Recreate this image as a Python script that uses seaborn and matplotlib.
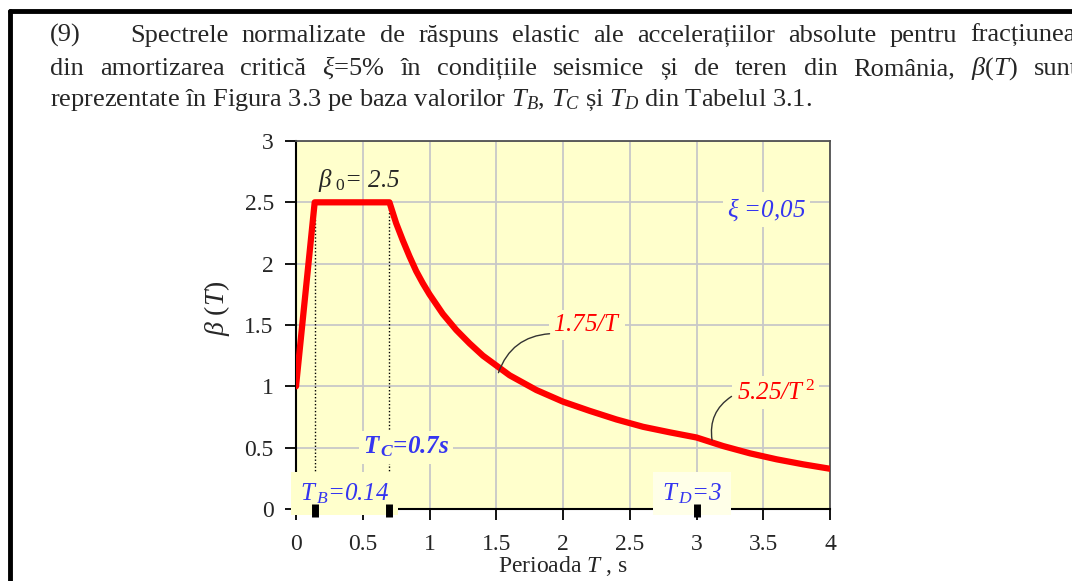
import pandas as pd
import seaborn as sns
import matplotlib.pyplot as plt
from matplotlib.lines import Line2D

# ------------- DATE
perioada = [0.0, 0.14, 0.7, 0.75, 0.8, 0.85, 0.9, 0.95, 1.0, 1.1, 1.2, 1.3, 1.4, 1.5,
            1.6, 1.8, 2.0, 2.2, 2.4, 2.6, 2.8, 3.0, 3.2, 3.4, 3.6, 3.8, 4.0]
beta = [1.0, 2.5, 2.5, 2.33, 2.19, 2.06, 1.94, 1.84, 1.75, 1.59, 1.46, 1.35, 1.25, 1.17,
        1.09, 0.97, 0.875, 0.80, 0.73, 0.67, 0.625, 0.583, 0.513, 0.454, 0.405, 0.364, 0.328]

perioade_colt = [0.14, 0.7, 3.0]          # TB, TC, TD
inceput_punctat = [2.37, 2.5]              # unde incep liniile punctate la TB si TC
x_ticks = [0, 0.5, 1, 1.5, 2, 2.5, 3, 3.5, 4]
x_labels = ["0", "0.5", "1", "1.5", "2", "2.5", "3", "3.5", "4"]
y_ticks = [0, 0.5, 1, 1.5, 2, 2.5, 3]
y_labels = ["0", "0.5", "1", "1.5", "2", "2.5", "3"]

rand1 = "Spectrele normalizate de răspuns elastic ale accelerațiilor absolute pentru fracțiunea"
rand2 = r"din amortizarea critică $\xi$=5% în condițiile seismice și de teren din România, $\beta(T)$ sunt"
rand3 = r"reprezentate în Figura 3.3 pe baza valorilor $T_B$, $T_C$ și $T_D$ din Tabelul 3.1."

df = pd.DataFrame({"T": perioada, "beta": beta})

sns.set_style("ticks")
plt.rcParams['font.family'] = ['Liberation Serif', 'DejaVu Serif']
plt.rcParams['mathtext.fontset'] = 'custom'
plt.rcParams['mathtext.rm'] = 'Liberation Serif'
plt.rcParams['mathtext.it'] = 'Liberation Serif:italic'
plt.rcParams['mathtext.bf'] = 'Liberation Serif:bold'
plt.rcParams['mathtext.bfit'] = 'Liberation Serif:bold:italic'

W, H = 1072, 581
fig = plt.figure(figsize=(W / 100, H / 100), dpi=100)
ax = fig.add_axes([296 / W, 1 - 509 / H, (830 - 296) / W, (509 - 141) / H])
renderer = fig.canvas.get_renderer()


def rand_justificat(text, x0, x1, y, fs):
    # pune cuvintele unul cate unul ca randul sa umple latimea (ca in pagina)
    cuvinte = text.split(" ")
    obiecte = [fig.text(0, 1 - y / H, c, fontsize=fs) for c in cuvinte]
    latimi = [o.get_window_extent(renderer).width for o in obiecte]
    spatiu = (x1 - x0 - sum(latimi)) / (len(cuvinte) - 1)
    x = x0
    for o, w in zip(obiecte, latimi):
        o.set_x(x / W)
        x += w + spatiu


# ------------- TEXT PARAGRAF
fs_txt = 19
fig.text(50 / W, 1 - 42 / H, "(9)", fontsize=fs_txt)
rand_justificat(rand1, 130, 1076, 42, fs_txt)
rand_justificat(rand2, 50, 1078, 75, fs_txt)
fig.text(50 / W, 1 - 106 / H, rand3, fontsize=fs_txt)

# chenar pagina
fig.add_artist(Line2D([9.5 / W, 1], [1 - 11 / H] * 2, color="black", lw=3.5,
                      transform=fig.transFigure))
fig.add_artist(Line2D([9.5 / W] * 2, [0, 1 - 11 / H], color="black", lw=3.5,
                      transform=fig.transFigure))

# ------------- GRAFIC
ax.set_facecolor("#FFFFCC")
ax.set_axisbelow(True)
ax.grid(True, color="#c8c8c8", lw=1.3)

sns.lineplot(data=df, x="T", y="beta", ax=ax, color="red", lw=4.5, sort=False,
             zorder=4, legend=False)

for t, y0 in zip(perioade_colt[:2], inceput_punctat):
    ax.plot([t, t], [0, y0], color="black", lw=1, ls=(0, (1, 1.5)), zorder=2)

ax.set_xlim(0, 4)
ax.set_ylim(0, 3)
ax.set_xticks(x_ticks)
ax.set_xticklabels(x_labels)
ax.set_yticks(y_ticks)
ax.set_yticklabels(y_labels)
ax.tick_params(direction="out", length=8, width=1.3, labelsize=17, color="black")
ax.tick_params(axis="x", pad=10)
ax.tick_params(axis="y", pad=8)

for s in ["top", "right"]:
    ax.spines[s].set_color("#505050")
    ax.spines[s].set_linewidth(1.3)
for s in ["bottom", "left"]:
    ax.spines[s].set_color("black")
    ax.spines[s].set_linewidth(1.5)

ax.set_xlabel(r"Perioada $T$ , s", fontsize=17)
ax.xaxis.set_label_coords(0.5, -0.122)
ax.set_ylabel(r"$\beta\ (T)$", fontsize=20)
ax.yaxis.set_label_coords(-0.12, 0.545)

box = dict(facecolor="#FFFFCC", edgecolor="none", pad=3)
blue = "#3535f0"

ax.text(0.165, 2.68, r"$\beta_{\ 0}$= 2.5", fontsize=18, style="italic", va="center")
ax.text(3.23, 2.44, r"$\xi$ =0,05", fontsize=18, style="italic", color=blue,
        va="center", bbox=box)
ax.text(1.925, 1.50, r"1.75/$T$", fontsize=18, style="italic", color="red",
        va="center", bbox=box)
ax.text(3.30, 0.95, r"5.25/$T^{\,2}$", fontsize=18, style="italic", color="red",
        va="center", bbox=box)
ax.text(0.50, 0.505, r"$\mathbfit{T}_{\,\mathbfit{C}}$=0.7s", fontsize=18, style="italic",
        weight="bold", color=blue, va="center", bbox=box, zorder=5)
ax.text(0.03, 0.125, r"$T_{\,B}$=0.14", fontsize=18, style="italic", color=blue,
        va="center", bbox=dict(facecolor="#FFFFCC", edgecolor="none", pad=6.5), zorder=5,
        clip_on=False)
ax.text(2.74, 0.125, r"$T_{\,D}$=3", fontsize=18, style="italic", color=blue,
        va="center", bbox=dict(facecolor="#FFFFE8", edgecolor="none", pad=6.5), zorder=5,
        clip_on=False)

ax.annotate("", xy=(1.51, 1.09), xytext=(1.92, 1.43),
            arrowprops=dict(arrowstyle="-", color="#333333", lw=1,
                            connectionstyle="arc3,rad=0.35"), zorder=6)
ax.annotate("", xy=(3.12, 0.54), xytext=(3.28, 0.93),
            arrowprops=dict(arrowstyle="-", color="#333333", lw=1,
                            connectionstyle="arc3,rad=0.35"), zorder=6)

# semne negre pe axa T la TB, TC, TD
ax.vlines(perioade_colt, -0.065, 0.04, color="black", lw=5, zorder=7, clip_on=False)

fig.savefig("out.png", dpi=100)
